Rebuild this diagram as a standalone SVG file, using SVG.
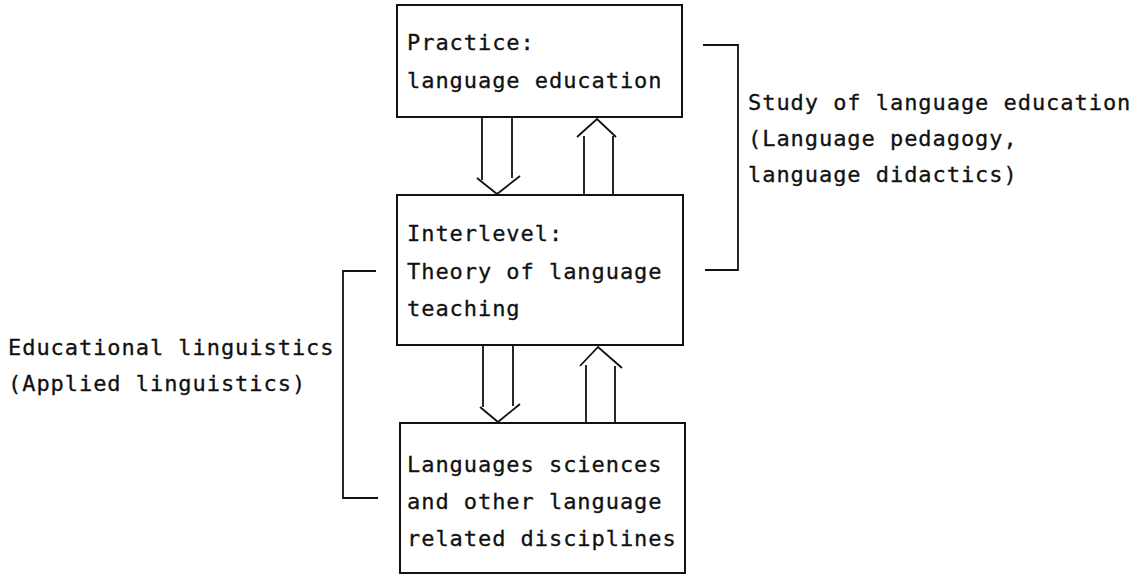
<svg xmlns="http://www.w3.org/2000/svg" width="1148" height="576" viewBox="0 0 1148 576">
<style>
.box{fill:#fff;stroke:#111;stroke-width:2}
.ln{fill:none;stroke:#111;stroke-width:1.8;stroke-linejoin:miter}
.t{font-family:"DejaVu Sans Mono","Liberation Mono",monospace;font-size:22px;letter-spacing:0.95px;fill:#111;stroke:#111;stroke-width:0.3}
</style>
<rect width="1148" height="576" fill="#fff"/>
<g id="connectors">
<path class="ln" d="M482 118 V180 M512 118 V178 M477 178 L497 194 L520 176"/>
<path class="ln" d="M584 136 V195 M613 136 V195 M577 137 L597 119 L616 137"/>
<path class="ln" d="M483 346 V407 M513 346 V406 M480 407 L498 422 L520 404"/>
<path class="ln" d="M586 365 V423 M615 366 V423 M580 366 L598 347 L622 368"/>
<path class="ln" d="M703 45 H738 V270 H705"/>
<path class="ln" d="M376 271 H343 V498 H378"/>
</g>
<g id="practice">
<rect class="box" x="397" y="5" width="285" height="112"/>
<text class="t" x="407" y="50">Practice:</text>
<text class="t" x="407" y="88">language education</text>
</g>
<g id="interlevel">
<rect class="box" x="397" y="195" width="286" height="150"/>
<text class="t" x="407" y="241">Interlevel:</text>
<text class="t" x="407" y="279">Theory of language</text>
<text class="t" x="407" y="316">teaching</text>
</g>
<g id="sciences">
<rect class="box" x="400" y="423" width="285" height="150"/>
<text class="t" x="407" y="472">Languages sciences</text>
<text class="t" x="407" y="509">and other language</text>
<text class="t" x="407" y="546">related disciplines</text>
</g>
<g id="study">
<text class="t" x="748" y="110">Study of language education</text>
<text class="t" x="748" y="146">(Language pedagogy,</text>
<text class="t" x="748" y="182">language didactics)</text>
</g>
<g id="educational">
<text class="t" x="8" y="355">Educational linguistics</text>
<text class="t" x="8" y="391">(Applied linguistics)</text>
</g>
</svg>
